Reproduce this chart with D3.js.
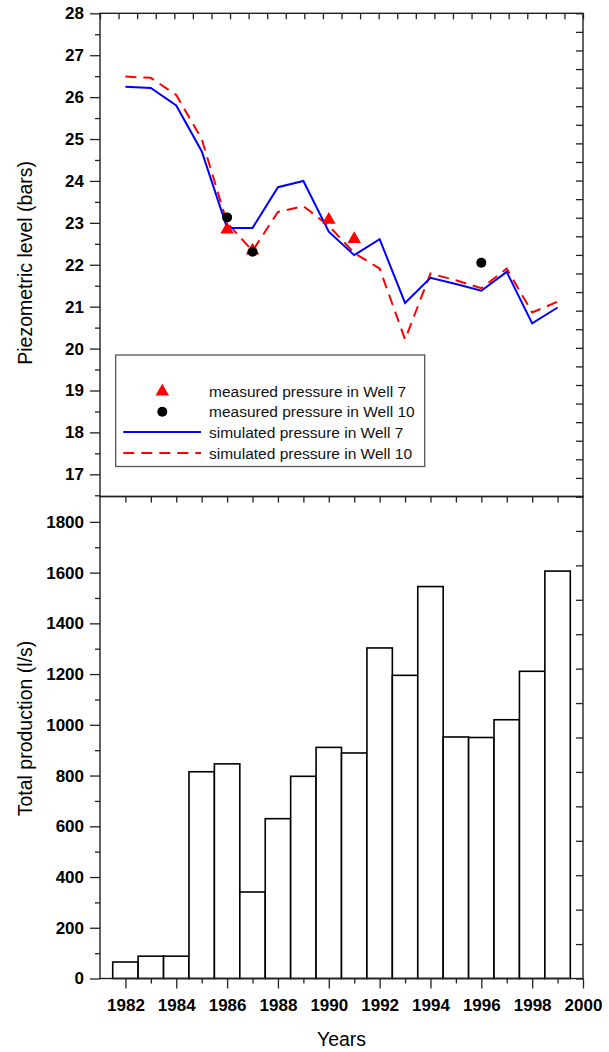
<!DOCTYPE html>
<html>
<head>
<meta charset="utf-8">
<script src="https://cdn.jsdelivr.net/npm/d3@7"></script>
<style>
  body { margin: 0; background: #fff; }
  svg { display: block; font-family: "Liberation Sans", Arial, sans-serif; }
  .tick text { font-weight: bold; font-size: 17px; fill: #000; }
  .axis path.domain { display: none; }
  .axis line { stroke: #222; stroke-width: 1.3; }
</style>
</head>
<body>
<div class="main"></div>
<script>
// Data
let years = [1982, 1983, 1984, 1985, 1986, 1987, 1988, 1989, 1990, 1991, 1992, 1993, 1994, 1995, 1996, 1997, 1998, 1999];
let simWell7 = [26.25, 26.22, 25.80, 24.71, 22.88, 22.88, 23.85, 24.00, 22.79, 22.23, 22.61, 21.09, 21.69, 21.54, 21.38, 21.83, 20.60, 20.98];
let simWell10 = [26.49, 26.46, 26.05, 25.00, 23.00, 22.33, 23.26, 23.40, 22.93, 22.28, 21.91, 20.22, 21.79, 21.63, 21.44, 21.91, 20.86, 21.12];
let measYears7 = [1986, 1987, 1990, 1991];
let measWell7 = [22.84, 22.34, 23.07, 22.61];
let measYears10 = [1986, 1987, 1996];
let measWell10 = [23.13, 22.31, 22.05];
let production = [65, 88, 88, 815, 846, 341, 630, 797, 911, 889, 1303, 1195, 1545, 952, 950, 1020, 1211, 1606];
let pressureTicks = [17, 18, 19, 20, 21, 22, 23, 24, 25, 26, 27, 28];
let productionTicks = [0, 200, 400, 600, 800, 1000, 1200, 1400, 1600, 1800];
let yearTicks = [1982, 1984, 1986, 1988, 1990, 1992, 1994, 1996, 1998, 2000];
let legendLabels = ["measured pressure in Well 7", "measured pressure in Well 10",
                    "simulated pressure in Well 7", "simulated pressure in Well 10"];

let width = 609, height = 1052;
let svg = d3.select("div.main").append("svg")
    .attr("width", width)
    .attr("height", height);

// Plot edges
let pLeft = 100, pRight = 583, pTop = 13.3, pMid = 496.5, pBottom = 978.5;

// Scales
let x = d3.scaleLinear().domain([1981, 2000]).range([pLeft, pRight]);
let yTop = d3.scaleLinear().domain([28 - (pMid - pTop) / 41.91, 28]).range([pMid, pTop]);
let yBot = d3.scaleLinear().domain([0, 1900]).range([pBottom, pMid]);
// mirror axes (top and right) have their own plain tick spacing
let xMirror = d3.scaleLinear().domain([0, 26]).range([pLeft, pRight]);
let yMirrorTop = d3.scaleLinear().domain([0, 26]).range([pMid, pTop]);
let yMirrorBot = d3.scaleLinear().domain([0, 14]).range([pBottom, pMid]);

// Bars
svg.append("g").selectAll("rect")
    .data(years)
    .enter().append("rect")
    .attr("x", d => x(d - 0.5))
    .attr("width", d => x(d + 0.5) - x(d - 0.5))
    .attr("y", (d, i) => yBot(production[i]))
    .attr("height", (d, i) => yBot(0) - yBot(production[i]))
    .attr("fill", "#fff")
    .attr("stroke", "#000")
    .attr("stroke-width", 1.6);

// Simulated lines
let line = d3.line()
    .x(d => x(d[0]))
    .y(d => yTop(d[1]));

svg.append("path")
    .datum(years.map((d, i) => [d, simWell10[i]]))
    .attr("d", line)
    .attr("fill", "none")
    .attr("stroke", "#ff0000")
    .attr("stroke-width", 2)
    .attr("stroke-dasharray", "11,7");

svg.append("path")
    .datum(years.map((d, i) => [d, simWell7[i]]))
    .attr("d", line)
    .attr("fill", "none")
    .attr("stroke", "#0000ff")
    .attr("stroke-width", 2);

// Measured points
let tri = d3.symbol().type(d3.symbolTriangle).size(80);
svg.append("g").selectAll("path")
    .data(measYears7)
    .enter().append("path")
    .attr("d", tri)
    .attr("transform", (d, i) => "translate(" + x(d) + "," + yTop(measWell7[i]) + ")")
    .attr("fill", "#ff0000");

svg.append("g").selectAll("circle")
    .data(measYears10)
    .enter().append("circle")
    .attr("cx", d => x(d))
    .attr("cy", (d, i) => yTop(measWell10[i]))
    .attr("r", 5)
    .attr("fill", "#000");

// Axes
svg.append("g").attr("class", "axis")
    .attr("transform", "translate(" + pLeft + ",0)")
    .call(d3.axisLeft(yTop).tickValues(pressureTicks).tickSize(10).tickPadding(6).tickFormat(d3.format("d")));
svg.append("g").attr("class", "axis")
    .attr("transform", "translate(" + pLeft + ",0)")
    .call(d3.axisLeft(yTop).tickValues(d3.range(16.5, 28, 1)).tickSize(5).tickFormat(""));

svg.append("g").attr("class", "axis")
    .attr("transform", "translate(" + pLeft + ",0)")
    .call(d3.axisLeft(yBot).tickValues(productionTicks).tickSize(10).tickPadding(6).tickFormat(d3.format("d")));
svg.append("g").attr("class", "axis")
    .attr("transform", "translate(" + pLeft + ",0)")
    .call(d3.axisLeft(yBot).tickValues(d3.range(100, 1900, 200)).tickSize(5).tickFormat(""));

// bottom axis
svg.append("g").attr("class", "axis")
    .attr("transform", "translate(0," + pBottom + ")")
    .call(d3.axisBottom(x).tickValues(yearTicks).tickSize(10).tickPadding(10).tickFormat(d3.format("d")));
svg.append("g").attr("class", "axis")
    .attr("transform", "translate(0," + pBottom + ")")
    .call(d3.axisBottom(x).tickValues(d3.range(1983, 2000, 2)).tickSize(5).tickFormat(""));

// shared middle line ticks (pointing down into the bar panel)
svg.append("g").attr("class", "axis")
    .attr("transform", "translate(0," + pMid + ")")
    .call(d3.axisBottom(x).tickValues(d3.range(1982, 2000, 1)).tickSize(6).tickFormat(""));

// mirror ticks: top and right, inward
svg.append("g").attr("class", "axis")
    .attr("transform", "translate(0," + pTop + ")")
    .call(d3.axisBottom(xMirror).ticks(26).tickSize(6).tickFormat(""));
svg.append("g").attr("class", "axis")
    .attr("transform", "translate(" + pRight + ",0)")
    .call(d3.axisLeft(yMirrorTop).ticks(26).tickSize(7).tickFormat(""));
svg.append("g").attr("class", "axis")
    .attr("transform", "translate(" + pRight + ",0)")
    .call(d3.axisLeft(yMirrorBot).ticks(14).tickSize(7).tickFormat(""));

// frames
let frame = svg.append("g").attr("fill", "none").attr("stroke", "#222").attr("stroke-width", 1.4);
frame.append("rect").attr("x", pLeft).attr("y", pTop).attr("width", pRight - pLeft).attr("height", pMid - pTop);
frame.append("rect").attr("x", pLeft).attr("y", pMid).attr("width", pRight - pLeft).attr("height", pBottom - pMid);

// Axis titles
svg.append("text")
    .attr("transform", "translate(32," + ((pTop + pMid) / 2 + 8) + ") rotate(-90)")
    .attr("text-anchor", "middle")
    .attr("font-size", 19.5)
    .text("Piezometric level (bars)");
svg.append("text")
    .attr("transform", "translate(32," + ((pMid + pBottom) / 2 - 9) + ") rotate(-90)")
    .attr("text-anchor", "middle")
    .attr("font-size", 19.5)
    .text("Total production (l/s)");
svg.append("text")
    .attr("x", (pLeft + pRight) / 2)
    .attr("y", 1046)
    .attr("text-anchor", "middle")
    .attr("font-size", 19.5)
    .text("Years");

// Legend
let leg = svg.append("g");
leg.append("rect")
    .attr("x", 115.7).attr("y", 355)
    .attr("width", 309).attr("height", 111.5)
    .attr("fill", "#fff")
    .attr("stroke", "#555")
    .attr("stroke-width", 1.3);

let legY = [391.5, 411.7, 432, 453];
leg.append("path").attr("d", tri).attr("fill", "#ff0000")
    .attr("transform", "translate(162.3," + legY[0] + ")");
leg.append("circle").attr("cx", 162.3).attr("cy", legY[1]).attr("r", 5).attr("fill", "#000");
leg.append("line").attr("x1", 123.3).attr("x2", 201).attr("y1", legY[2]).attr("y2", legY[2])
    .attr("stroke", "#0000ff").attr("stroke-width", 2);
leg.append("line").attr("x1", 123.3).attr("x2", 201).attr("y1", legY[3]).attr("y2", legY[3])
    .attr("stroke", "#ff0000").attr("stroke-width", 2).attr("stroke-dasharray", "11,7");

leg.selectAll("text.lab")
    .data(legendLabels)
    .enter().append("text")
    .attr("class", "lab")
    .attr("x", 209)
    .attr("y", (d, i) => legY[i] + 5.5)
    .attr("font-size", 15.5)
    .attr("fill", "#111")
    .text(d => d);
</script>
</body>
</html>
